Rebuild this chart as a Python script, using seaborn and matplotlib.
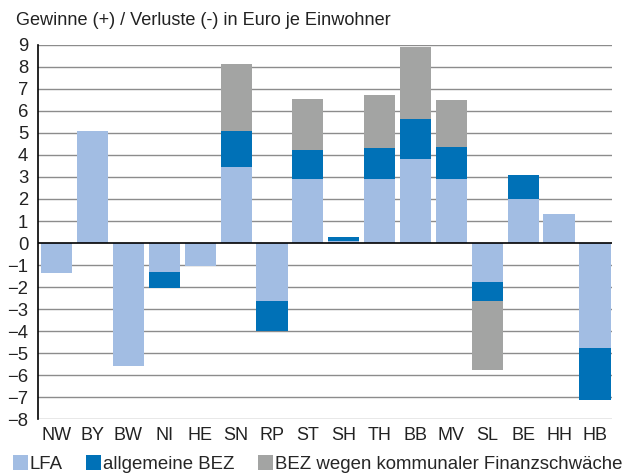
import matplotlib
matplotlib.use("Agg")
import matplotlib.pyplot as plt
import numpy as np
import pandas as pd
import seaborn as sns
from matplotlib.patches import Patch

# ---- data (Euro je Einwohner) -------------------------------------------------
laender = ["NW", "BY", "BW", "NI", "HE", "SN", "RP", "ST",
           "SH", "TH", "BB", "MV", "SL", "BE", "HH", "HB"]
lfa = [-1.35, 5.1, -5.6, -1.33, -1.05, 3.47, -2.64, 2.9,
       0.1, 2.92, 3.82, 2.92, -1.79, 2.01, 1.32, -4.79]
bez_allg = [0.0, 0.0, 0.0, -0.73, 0.0, 1.61, -1.36, 1.34,
            0.16, 1.4, 1.82, 1.43, -0.86, 1.07, 0.0, -2.35]
bez_komm = [0.0, 0.0, 0.0, 0.0, 0.0, 3.04, 0.0, 2.29,
            0.0, 2.42, 3.26, 2.15, -3.12, 0.0, 0.0, 0.0]
series_names = ["LFA", "allgemeine BEZ", "BEZ wegen kommunaler Finanzschwäche"]
colors = ["#a2bde3", "#0071b7", "#a3a4a3"]

sns.set_theme(style="white")
plt.rcParams["font.family"] = ["Liberation Sans", "DejaVu Sans"]

fig = plt.figure(figsize=(6.34, 4.76), dpi=100)
ax = fig.add_axes([0.06, 0.1197, 0.905, 0.7858])

# stack the three components; no state mixes signs, so a plain running sum works
bottom = np.zeros(len(laender))
for vals, col in zip([lfa, bez_allg, bez_komm], colors):
    vals = np.array(vals)
    sns.barplot(x=laender, y=vals, bottom=bottom, color=col, saturation=1,
                width=0.87, linewidth=0, ax=ax, zorder=3)
    bottom = bottom + vals

ax.set_xlim(-0.52, 15.47)
ax.set_ylim(-8, 9)
ax.set_yticks(range(-8, 10))
for y in range(-8, 10):
    if y != 0:
        ax.axhline(y, color="#8c8c8c", lw=1.0, zorder=1)
ax.axhline(0, color="black", lw=1.2, zorder=4)

for side in ["top", "right", "bottom"]:
    ax.spines[side].set_visible(False)
ax.spines["left"].set_color("black")
ax.spines["left"].set_linewidth(1.2)
ax.tick_params(axis="both", length=0, labelsize=13.3, colors="#222222")
ax.tick_params(axis="y", pad=7)
ax.tick_params(axis="x", pad=6, labelsize=13)
ax.set_xlabel("")
ax.set_ylabel("")

fig.text(0.025, 0.948, "Gewinne (+) / Verluste (-) in Euro je Einwohner",
         fontsize=13.1, color="#222222", va="baseline")

handles = [Patch(facecolor=c, edgecolor="none") for c in colors]
fig.legend(handles, series_names, loc="center left", bbox_to_anchor=(0.02, 0.025),
           ncol=3, frameon=False, fontsize=13.4, handlelength=0.8, handleheight=0.8,
           handletextpad=0.12, columnspacing=1.25, borderaxespad=0, borderpad=0)

fig.savefig("out.png", dpi=100)
